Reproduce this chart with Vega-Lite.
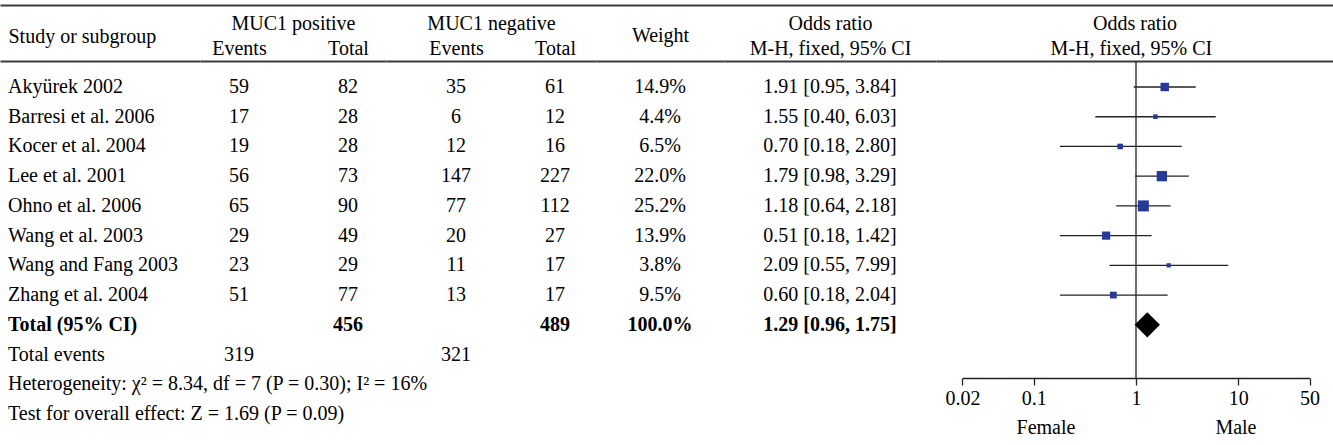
{
  "$schema": "https://vega.github.io/schema/vega-lite/v6.json",
  "width": 1333,
  "height": 317,
  "autosize": {"type": "none"},
  "padding": {"left": 0, "top": 61, "right": 0, "bottom": 67},
  "background": "white",
  "config": {
    "view": {"stroke": null},
    "font": "Liberation Serif",
    "text": {"font": "Liberation Serif", "fontSize": 20, "color": "black", "baseline": "middle"},
    "axis": {
      "labelFont": "Liberation Serif", "titleFont": "Liberation Serif",
      "labelFontSize": 20, "titleFontSize": 20, "titleFontWeight": "normal",
      "labelColor": "black", "titleColor": "black",
      "domainColor": "#3a3a3a", "domainWidth": 2,
      "ticks": false, "grid": false, "labelAngle": 0, "labelOverlap": false
    }
  },
  "data": {"values": [
    {"study": "Akyürek 2002", "ev_pos": 59, "tot_pos": 82, "ev_neg": 35, "tot_neg": 61, "weight": "14.9%", "or_text": "1.91 [0.95, 3.84]", "or": 1.91, "lo": 0.95, "hi": 3.84, "w": 14.9},
    {"study": "Barresi et al. 2006", "ev_pos": 17, "tot_pos": 28, "ev_neg": 6, "tot_neg": 12, "weight": "4.4%", "or_text": "1.55 [0.40, 6.03]", "or": 1.55, "lo": 0.40, "hi": 6.03, "w": 4.4},
    {"study": "Kocer et al. 2004", "ev_pos": 19, "tot_pos": 28, "ev_neg": 12, "tot_neg": 16, "weight": "6.5%", "or_text": "0.70 [0.18, 2.80]", "or": 0.70, "lo": 0.18, "hi": 2.80, "w": 6.5},
    {"study": "Lee et al. 2001", "ev_pos": 56, "tot_pos": 73, "ev_neg": 147, "tot_neg": 227, "weight": "22.0%", "or_text": "1.79 [0.98, 3.29]", "or": 1.79, "lo": 0.98, "hi": 3.29, "w": 22.0},
    {"study": "Ohno et al. 2006", "ev_pos": 65, "tot_pos": 90, "ev_neg": 77, "tot_neg": 112, "weight": "25.2%", "or_text": "1.18 [0.64, 2.18]", "or": 1.18, "lo": 0.64, "hi": 2.18, "w": 25.2},
    {"study": "Wang et al. 2003", "ev_pos": 29, "tot_pos": 49, "ev_neg": 20, "tot_neg": 27, "weight": "13.9%", "or_text": "0.51 [0.18, 1.42]", "or": 0.51, "lo": 0.18, "hi": 1.42, "w": 13.9},
    {"study": "Wang and Fang 2003", "ev_pos": 23, "tot_pos": 29, "ev_neg": 11, "tot_neg": 17, "weight": "3.8%", "or_text": "2.09 [0.55, 7.99]", "or": 2.09, "lo": 0.55, "hi": 7.99, "w": 3.8},
    {"study": "Zhang et al. 2004", "ev_pos": 51, "tot_pos": 77, "ev_neg": 13, "tot_neg": 17, "weight": "9.5%", "or_text": "0.60 [0.18, 2.04]", "or": 0.60, "lo": 0.18, "hi": 2.04, "w": 9.5},
    {"study": "Total (95% CI)", "tot_pos": 456, "tot_neg": 489, "weight": "100.0%", "or_text": "1.29 [0.96, 1.75]", "or": 1.29, "lo": 0.96, "hi": 1.75},
    {"study": "Total events", "ev_pos": 319, "ev_neg": 321},
    {"study": "Heterogeneity: χ² = 8.34, df = 7 (P = 0.30); I² = 16%"},
    {"study": "Test for overall effect: Z = 1.69 (P = 0.09)"}
  ]},
  "layer": [
    {"mark": {"type": "text", "opacity": 0},
     "encoding": {
       "x": {"field": "study", "type": "nominal", "scale": {"type": "point", "range": [0, 1333]}, "axis": {"orient": "top", "offset": 56, "labels": false, "title": null, "domain": true}},
       "y": {"field": "study", "type": "nominal", "scale": {"type": "point", "domain": ["Akyürek 2002","Barresi et al. 2006","Kocer et al. 2004","Lee et al. 2001","Ohno et al. 2006","Wang et al. 2003","Wang and Fang 2003","Zhang et al. 2004","Total (95% CI)","Total events","Heterogeneity: χ² = 8.34, df = 7 (P = 0.30); I² = 16%","Test for overall effect: Z = 1.69 (P = 0.09)"], "range": [26, 353], "padding": 0}, "axis": null}
     }},
    {"transform": [{"fold": ["study"], "as": ["col", "val"]}, {"filter": "datum.study != 'Total (95% CI)'"}],
     "mark": {"type": "text", "align": "left"},
     "encoding": {
       "x": {"field": "col", "type": "nominal", "scale": {"type": "point", "domain": ["study"], "range": [0, 200], "padding": 0.5, "align": 0.04}, "axis": {"orient": "top", "labelExpr": "'Study or subgroup'", "labelAlign": "left", "labelPadding": 15, "title": null, "domain": true}},
       "y": {"field": "study", "type": "nominal"},
       "text": {"field": "val", "type": "nominal"}
     }},
    {"transform": [{"fold": ["study"], "as": ["col", "val"]}, {"filter": "datum.study == 'Total (95% CI)'"}],
     "mark": {"type": "text", "align": "left", "fontWeight": "bold"},
     "encoding": {
       "x": {"field": "col", "type": "nominal", "scale": {"type": "point", "domain": ["study"], "range": [0, 200], "padding": 0.5, "align": 0.04}, "axis": null},
       "y": {"field": "study", "type": "nominal"},
       "text": {"field": "val", "type": "nominal"}
     }},
    {"transform": [{"fold": ["ev_pos", "tot_pos"], "as": ["col", "val"]}, {"filter": "isValid(datum.val) && datum.study != 'Total (95% CI)'"}],
     "mark": {"type": "text"},
     "encoding": {
       "x": {"field": "col", "type": "nominal", "scale": {"type": "point", "domain": ["ev_pos", "tot_pos"], "range": [200, 386], "padding": 0.353, "align": 0.506}, "axis": {"orient": "top", "labelExpr": "datum.value == 'ev_pos' ? 'Events' : 'Total'", "labelPadding": 3, "title": "MUC1 positive", "titlePadding": 5, "domain": true}},
       "y": {"field": "study", "type": "nominal"},
       "text": {"field": "val", "type": "nominal"}
     }},
    {"transform": [{"fold": ["ev_pos", "tot_pos"], "as": ["col", "val"]}, {"filter": "isValid(datum.val) && datum.study == 'Total (95% CI)'"}],
     "mark": {"type": "text", "fontWeight": "bold"},
     "encoding": {
       "x": {"field": "col", "type": "nominal", "scale": {"type": "point", "domain": ["ev_pos", "tot_pos"], "range": [200, 386], "padding": 0.353, "align": 0.506}, "axis": null},
       "y": {"field": "study", "type": "nominal"},
       "text": {"field": "val", "type": "nominal"}
     }},
    {"transform": [{"fold": ["ev_neg", "tot_neg"], "as": ["col", "val"]}, {"filter": "isValid(datum.val) && datum.study != 'Total (95% CI)'"}],
     "mark": {"type": "text"},
     "encoding": {
       "x": {"field": "col", "type": "nominal", "scale": {"type": "point", "domain": ["ev_neg", "tot_neg"], "range": [386, 596], "padding": 0.561, "align": 0.631}, "axis": {"orient": "top", "labelExpr": "datum.value == 'ev_neg' ? 'Events' : 'Total'", "labelPadding": 3, "title": "MUC1 negative", "titlePadding": 5, "domain": true}},
       "y": {"field": "study", "type": "nominal"},
       "text": {"field": "val", "type": "nominal"}
     }},
    {"transform": [{"fold": ["ev_neg", "tot_neg"], "as": ["col", "val"]}, {"filter": "isValid(datum.val) && datum.study == 'Total (95% CI)'"}],
     "mark": {"type": "text", "fontWeight": "bold"},
     "encoding": {
       "x": {"field": "col", "type": "nominal", "scale": {"type": "point", "domain": ["ev_neg", "tot_neg"], "range": [386, 596], "padding": 0.561, "align": 0.631}, "axis": null},
       "y": {"field": "study", "type": "nominal"},
       "text": {"field": "val", "type": "nominal"}
     }},
    {"transform": [{"fold": ["weight"], "as": ["col", "val"]}, {"filter": "isValid(datum.val) && datum.study != 'Total (95% CI)'"}],
     "mark": {"type": "text"},
     "encoding": {
       "x": {"field": "col", "type": "nominal", "scale": {"type": "point", "domain": ["weight"], "range": [596, 724], "padding": 0.5, "align": 0.5}, "axis": {"orient": "top", "labelExpr": "'Weight'", "labelPadding": 16, "title": null, "domain": true}},
       "y": {"field": "study", "type": "nominal"},
       "text": {"field": "val", "type": "nominal"}
     }},
    {"transform": [{"fold": ["weight"], "as": ["col", "val"]}, {"filter": "isValid(datum.val) && datum.study == 'Total (95% CI)'"}],
     "mark": {"type": "text", "fontWeight": "bold"},
     "encoding": {
       "x": {"field": "col", "type": "nominal", "scale": {"type": "point", "domain": ["weight"], "range": [596, 724], "padding": 0.5, "align": 0.5}, "axis": null},
       "y": {"field": "study", "type": "nominal"},
       "text": {"field": "val", "type": "nominal"}
     }},
    {"transform": [{"fold": ["or_text"], "as": ["col", "val"]}, {"filter": "isValid(datum.val) && datum.study != 'Total (95% CI)'"}],
     "mark": {"type": "text"},
     "encoding": {
       "x": {"field": "col", "type": "nominal", "scale": {"type": "point", "domain": ["or_text"], "range": [724, 936], "padding": 0.5, "align": 0.5}, "axis": {"orient": "top", "labelExpr": "'M-H, fixed, 95% CI'", "labelPadding": 3, "title": "Odds ratio", "titlePadding": 5, "domain": true}},
       "y": {"field": "study", "type": "nominal"},
       "text": {"field": "val", "type": "nominal"}
     }},
    {"transform": [{"fold": ["or_text"], "as": ["col", "val"]}, {"filter": "isValid(datum.val) && datum.study == 'Total (95% CI)'"}],
     "mark": {"type": "text", "fontWeight": "bold"},
     "encoding": {
       "x": {"field": "col", "type": "nominal", "scale": {"type": "point", "domain": ["or_text"], "range": [724, 936], "padding": 0.5, "align": 0.5}, "axis": null},
       "y": {"field": "study", "type": "nominal"},
       "text": {"field": "val", "type": "nominal"}
     }},
    {"transform": [{"fold": ["or_text"], "as": ["col", "val"]}, {"filter": "isValid(datum.val)"}],
     "mark": {"type": "text", "opacity": 0},
     "encoding": {
       "x": {"field": "col", "type": "nominal", "scale": {"type": "point", "domain": ["or_text"], "range": [936, 1333], "padding": 0.5, "align": 0.491}, "axis": {"orient": "top", "labelExpr": "'M-H, fixed, 95% CI'", "labelPadding": 3, "title": "Odds ratio", "titlePadding": 5, "domain": true}},
       "y": {"field": "study", "type": "nominal"}
     }},
    {"transform": [{"filter": "datum.study == 'Total (95% CI)'"}],
     "mark": {"type": "rule", "color": "#222", "strokeWidth": 1.3},
     "encoding": {
       "x": {"datum": 1, "type": "quantitative", "scale": {"type": "log", "domain": [0.02, 50], "range": [962.4, 1309.6], "nice": false}, "axis": {"orient": "bottom", "values": [0.02, 0.1, 1, 10, 50], "format": "~g", "ticks": true, "tickSize": 7, "tickWidth": 1.3, "tickColor": "#222", "domain": true, "domainColor": "#222", "domainWidth": 1.3, "labelPadding": 3, "labelFlush": false, "title": "Female\u00a0\u00a0\u00a0\u00a0\u00a0\u00a0\u00a0\u00a0\u00a0\u00a0\u00a0\u00a0\u00a0\u00a0\u00a0\u00a0\u00a0\u00a0\u00a0\u00a0\u00a0\u00a0\u00a0\u00a0\u00a0\u00a0\u00a0\u00a0Male", "titlePadding": 9}}
     }},
    {"transform": [{"filter": "isValid(datum.lo) && datum.study != 'Total (95% CI)'"}],
     "mark": {"type": "rule", "color": "#222", "strokeWidth": 1.3},
     "encoding": {
       "x": {"field": "lo", "type": "quantitative", "scale": {"type": "log", "domain": [0.02, 50], "range": [962.4, 1309.6], "nice": false}, "axis": null},
       "x2": {"field": "hi"},
       "y": {"field": "study", "type": "nominal"}
     }},
    {"transform": [{"filter": "isValid(datum.w)"}],
     "mark": {"type": "square", "color": "#26399a", "opacity": 1},
     "encoding": {
       "x": {"field": "or", "type": "quantitative", "scale": {"type": "log", "domain": [0.02, 50], "range": [962.4, 1309.6], "nice": false}, "axis": null},
       "y": {"field": "study", "type": "nominal"},
       "size": {"field": "w", "type": "quantitative", "scale": {"domain": [0, 25], "range": [0, 120]}, "legend": null}
     }},
    {"transform": [{"filter": "datum.study == 'Total (95% CI)'"}],
     "mark": {"type": "point", "shape": "diamond", "filled": true, "color": "black", "opacity": 1, "size": 640},
     "encoding": {
       "x": {"field": "or", "type": "quantitative", "scale": {"type": "log", "domain": [0.02, 50], "range": [962.4, 1309.6], "nice": false}, "axis": null},
       "y": {"field": "study", "type": "nominal"}
     }}
  ],
  "resolve": {"scale": {"x": "independent"}, "axis": {"x": "independent"}}
}
